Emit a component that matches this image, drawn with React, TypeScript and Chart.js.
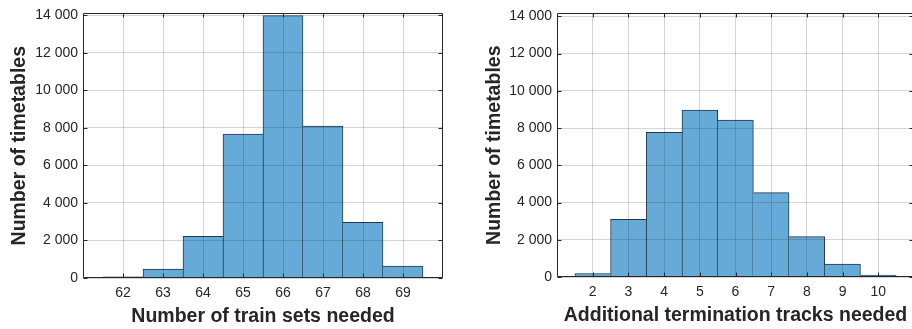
import React, { useEffect, useRef } from 'react';
import { Chart, registerables } from 'chart.js';

Chart.register(...registerables);

// Left histogram: number of train sets needed
const trainSetBins = [62, 63, 64, 65, 66, 67, 68, 69, 70];
const trainSetCounts = [60, 470, 2220, 7670, 13980, 8090, 2960, 635, 30];
const trainSetTicks = [62, 63, 64, 65, 66, 67, 68, 69];

// Right histogram: additional termination tracks needed
const trackBins = [2, 3, 4, 5, 6, 7, 8, 9, 10];
const trackCounts = [190, 3095, 7770, 8965, 8430, 4535, 2170, 694, 107];
const trackTicks = [2, 3, 4, 5, 6, 7, 8, 9, 10];

const yTicks = [0, 2000, 4000, 6000, 8000, 10000, 12000, 14000];

const TEXT = '#262626';
const FONT = "'Liberation Sans', Arial, sans-serif";
const GRID = 'rgba(38,38,38,0.2)';

const fmt = (v: number) => String(v).replace(/\B(?=(\d{3})+(?!\d))/g, ' ');

const boxPlugin = {
  id: 'matlabBox',
  afterDraw(chart: any) {
    const { ctx, chartArea: a, scales } = chart;
    const x = scales.x;
    const y = scales.y;
    const L = Math.round(a.left) + 0.5;
    const R = Math.round(a.right) - 0.5;
    const T = Math.round(a.top) + 0.5;
    const B = Math.round(a.bottom) - 0.5;
    ctx.save();
    ctx.strokeStyle = TEXT;
    ctx.lineWidth = 1;
    ctx.beginPath();
    for (const t of x.ticks) {
      const px = Math.round(x.getPixelForValue(t.value)) + 0.5;
      ctx.moveTo(px, B);
      ctx.lineTo(px, B - 4);
      ctx.moveTo(px, T);
      ctx.lineTo(px, T + 4);
    }
    for (const t of y.ticks) {
      const py = Math.round(y.getPixelForValue(t.value)) + 0.5;
      ctx.moveTo(L, py);
      ctx.lineTo(L + 4, py);
      ctx.moveTo(R, py);
      ctx.lineTo(R - 4, py);
    }
    ctx.stroke();
    ctx.beginPath();
    ctx.rect(L, T, R - L, B - T);
    ctx.stroke();
    ctx.restore();
  },
};

type HistProps = {
  left: number;
  width: number;
  bins: number[];
  counts: number[];
  ticks: number[];
  xMin: number;
  xMax: number;
  yMax: number;
  xTitle: string;
  padTop: number;
  padRight: number;
  yAxisWidth: number;
  xAxisHeight: number;
  yTitlePad: number;
  xTitlePad: number;
};

function Histogram(p: HistProps) {
  const ref = useRef<HTMLCanvasElement>(null);
  useEffect(() => {
    if (!ref.current) return;
    const n = p.counts.length;
    const chart = new Chart(ref.current, {
      type: 'bar',
      data: {
        datasets: [
          {
            data: p.bins.map((b, i) => ({ x: b, y: p.counts[i] })),
            backgroundColor: 'rgb(102,170,215)',
            borderColor: '#22384c',
            borderWidth: (ctx: any) => {
              const i = ctx.dataIndex;
              const h = p.counts[i];
              const prev = i > 0 ? p.counts[i - 1] : -1;
              const next = i < n - 1 ? p.counts[i + 1] : -1;
              return {
                top: 1,
                left: h > prev ? 1 : 0,
                right: h >= next ? 1 : 0,
                bottom: 0,
              };
            },
            barPercentage: 1,
            categoryPercentage: 1,
          } as any,
        ],
      },
      options: {
        responsive: false,
        animation: false,
        devicePixelRatio: 1,
        layout: { padding: { top: p.padTop, right: p.padRight, bottom: 0, left: 0 } },
        plugins: { legend: { display: false }, tooltip: { enabled: false } },
        scales: {
          x: {
            type: 'linear',
            min: p.xMin,
            max: p.xMax,
            offset: false,
            afterBuildTicks: (s: any) => {
              s.ticks = p.ticks.map((v) => ({ value: v }));
            },
            afterFit: (s: any) => {
              s.height = p.xAxisHeight;
            },
            grid: { color: GRID, drawTicks: false, offset: false, z: 1 },
            border: { display: false },
            ticks: {
              color: TEXT,
              font: { family: FONT, size: 14 },
              padding: 7,
              maxRotation: 0,
              autoSkip: false,
              callback: (v: any) => String(v),
            },
            title: {
              display: true,
              text: p.xTitle,
              color: TEXT,
              font: { family: FONT, size: 19.5, weight: 'bold' },
              padding: { top: 0, bottom: p.xTitlePad },
            },
          },
          y: {
            type: 'linear',
            min: 0,
            max: p.yMax,
            afterBuildTicks: (s: any) => {
              s.ticks = yTicks.map((v) => ({ value: v }));
            },
            afterFit: (s: any) => {
              s.width = p.yAxisWidth;
            },
            grid: { color: GRID, drawTicks: false, z: 1 },
            border: { display: false },
            ticks: {
              color: TEXT,
              font: { family: FONT, size: 14 },
              padding: 5,
              autoSkip: false,
              callback: (v: any) => fmt(Number(v)),
            },
            title: {
              display: true,
              text: 'Number of timetables',
              color: TEXT,
              font: { family: FONT, size: 19.5, weight: 'bold' },
              padding: { top: p.yTitlePad, bottom: 0 },
            },
          },
        },
      } as any,
      plugins: [boxPlugin],
    });
    return () => chart.destroy();
  }, []);
  return (
    <canvas
      ref={ref}
      width={p.width}
      height={329}
      style={{ position: 'absolute', left: p.left, top: 0, width: p.width, height: 329 }}
    />
  );
}

export default function App() {
  return (
    <div
      style={{
        position: 'absolute',
        left: 0,
        top: 0,
        width: 912,
        height: 329,
        overflow: 'hidden',
        background: '#fff',
      }}
    >
      <Histogram
        left={0}
        width={460}
        bins={trainSetBins}
        counts={trainSetCounts}
        ticks={trainSetTicks}
        xMin={61}
        xMax={70}
        yMax={14100}
        xTitle="Number of train sets needed"
        padTop={12}
        padRight={17}
        yAxisWidth={83}
        xAxisHeight={51}
        yTitlePad={8}
        xTitlePad={0.5}
      />
      <Histogram
        left={460}
        width={456}
        bins={trackBins}
        counts={trackCounts}
        ticks={trackTicks}
        xMin={1}
        xMax={11}
        yMax={14160}
        xTitle="Additional termination tracks needed"
        padTop={12}
        padRight={2}
        yAxisWidth={97}
        xAxisHeight={52}
        yTitlePad={23}
        xTitlePad={1.8}
      />
    </div>
  );
}
